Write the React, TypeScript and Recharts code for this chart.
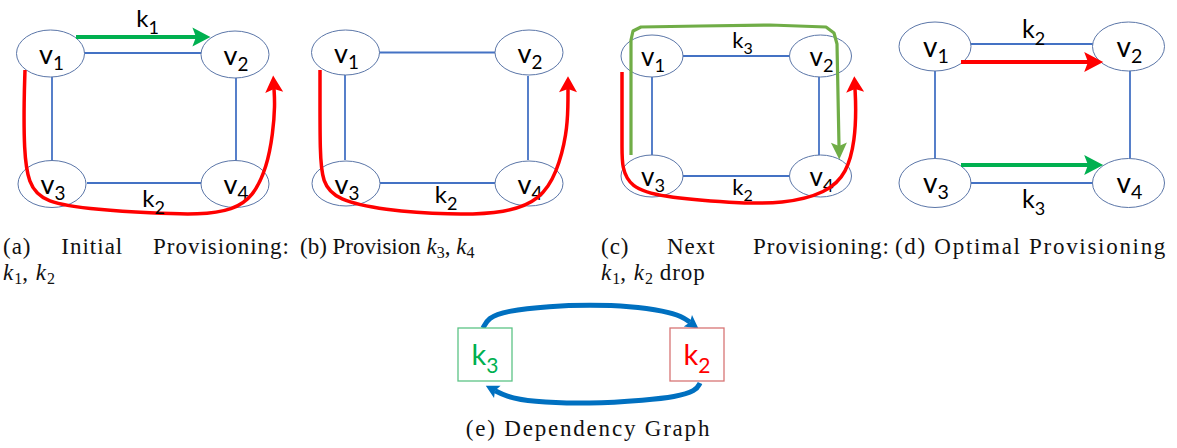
import React from 'react';
import { ScatterChart, Scatter, XAxis, YAxis } from 'recharts';

const W = 1177;
const H = 448;

// ---- node centres (px) ----
const nodesA = [
  { x: 50.5, y: 53.5, n: '1' }, { x: 235, y: 54.5, n: '2' },
  { x: 52, y: 184, n: '3' }, { x: 235, y: 184, n: '4' },
];
const nodesB = [
  { x: 345.5, y: 52.5, n: '1' }, { x: 529, y: 52.5, n: '2' },
  { x: 346, y: 183.5, n: '3' }, { x: 529, y: 183.5, n: '4' },
];
const nodesC = [
  { x: 652, y: 56, n: '1' }, { x: 820.5, y: 56, n: '2' },
  { x: 652, y: 176, n: '3' }, { x: 820.5, y: 176, n: '4' },
];
const nodesD = [
  { x: 935, y: 46.5, n: '1' }, { x: 1128.5, y: 46.5, n: '2' },
  { x: 935, y: 183, n: '3' }, { x: 1128.5, y: 183, n: '4' },
];

// ---- graph edges (segments between ellipse borders) ----
const edgesA = [
  [{ x: 84, y: 53 }, { x: 201, y: 53 }],
  [{ x: 52, y: 77 }, { x: 52, y: 161 }],
  [{ x: 236, y: 78 }, { x: 236, y: 161 }],
  [{ x: 87, y: 183 }, { x: 201, y: 183 }],
];
const edgesB = [
  [{ x: 379, y: 52.5 }, { x: 495, y: 52.5 }],
  [{ x: 345, y: 74 }, { x: 345, y: 160 }],
  [{ x: 528, y: 76 }, { x: 528, y: 160 }],
  [{ x: 380, y: 183 }, { x: 495, y: 183 }],
];
const edgesC = [
  [{ x: 683, y: 56 }, { x: 789, y: 56 }],
  [{ x: 652, y: 77 }, { x: 652, y: 155 }],
  [{ x: 819, y: 77 }, { x: 819, y: 155 }],
  [{ x: 683, y: 176 }, { x: 789, y: 176 }],
];
const edgesD = [
  [{ x: 971, y: 44 }, { x: 1093, y: 44 }],
  [{ x: 935, y: 71 }, { x: 935, y: 158 }],
  [{ x: 1130, y: 71 }, { x: 1130, y: 158 }],
  [{ x: 971, y: 183 }, { x: 1093, y: 183 }],
];

// ---- flow paths (last point = arrow notch) ----
const greenA = [{ x: 76, y: 37 }, { x: 196, y: 37 }];
const redA = [
  { x: 25, y: 70 }, { x: 24, y: 100 }, { x: 24, y: 150 }, { x: 28, y: 183 },
  { x: 43, y: 203 }, { x: 100, y: 210 }, { x: 150, y: 213 }, { x: 200, y: 215 },
  { x: 233, y: 210 }, { x: 253, y: 197 }, { x: 267, y: 167 }, { x: 273, y: 133 },
  { x: 275, y: 105 }, { x: 274, y: 89 },
];
const redB = [
  { x: 320, y: 70 }, { x: 320, y: 100 }, { x: 320, y: 150 }, { x: 322, y: 183 },
  { x: 337, y: 200 }, { x: 383, y: 210 }, { x: 450, y: 215 }, { x: 507, y: 213 },
  { x: 540, y: 200 }, { x: 557, y: 173 }, { x: 567, y: 133 }, { x: 568, y: 105 },
  { x: 568, y: 89 },
];
const redC = [
  { x: 622, y: 72 }, { x: 622, y: 110 }, { x: 622, y: 150 }, { x: 622, y: 167 },
  { x: 630, y: 187 }, { x: 660, y: 197 }, { x: 733, y: 203 }, { x: 783, y: 204 },
  { x: 827, y: 193 }, { x: 847, y: 173 }, { x: 855, y: 140 }, { x: 856, y: 107 },
  { x: 855, y: 89 },
];
const greenC = [
  { x: 631, y: 155 }, { x: 631, y: 40 }, { x: 633, y: 31 }, { x: 641, y: 27 },
  { x: 700, y: 26 }, { x: 770, y: 25 }, { x: 826, y: 27 }, { x: 834, y: 33 },
  { x: 837, y: 44 }, { x: 839, y: 146 },
];
const redD = [{ x: 961, y: 62 }, { x: 1088, y: 62 }];
const greenD = [{ x: 961, y: 165 }, { x: 1088, y: 165 }];

// dependency graph arcs
const depTop = [
  { x: 483, y: 328 }, { x: 488, y: 318 }, { x: 505, y: 311 }, { x: 550, y: 306 },
  { x: 590, y: 305 }, { x: 630, y: 306 }, { x: 665, y: 311 }, { x: 682, y: 316.5 },
  { x: 690, y: 322.3 },
];
const depBottom = [
  { x: 700, y: 383 }, { x: 696, y: 391 }, { x: 675, y: 397 }, { x: 647, y: 400 },
  { x: 590, y: 404 }, { x: 530, y: 402 }, { x: 505, y: 396 }, { x: 495, y: 390.7 },
];
const depBoxes = [
  { x: 485, y: 354.5, t: '3' },
  { x: 697, y: 354.5, t: '2' },
];

// ---- edge labels k_i (x = centre, y = baseline) ----
const labelsA = [{ x: 147.5, y: 27, t: '1' }, { x: 153.5, y: 207, t: '2' }];
const labelsB = [{ x: 446, y: 203, t: '2' }];
const labelsC = [{ x: 742.5, y: 48, t: '3' }, { x: 742.5, y: 195, t: '2' }];
const labelsD = [{ x: 1033.5, y: 38, t: '2' }, { x: 1033.5, y: 208, t: '3' }];

const BLUE = '#4472c4';
const NODE_STROKE = '#5b76a8';
const RED = '#ff0000';
const GREEN = '#00b050';
const OLIVE = '#70ad47';
const DEP = '#0070c0';
const SANS = 'Lato, "Open Sans", sans-serif';

const noDot = () => <g />;

const tipOf = (pts: { x: number; y: number }[]) => {
  const a = pts[pts.length - 2];
  const b = pts[pts.length - 1];
  return [{ x: b.x, y: b.y, ang: Math.atan2(b.y - a.y, b.x - a.x) }];
};

const arrowShape = (len: number, hw: number, color: string) => (p: any) => {
  const { cx, cy, payload } = p;
  const c = Math.cos(payload.ang);
  const s = Math.sin(payload.ang);
  const pts = [
    [len * 0.8, 0], [-len * 0.2, -hw], [0, 0], [-len * 0.2, hw],
  ].map(([u, v]) => `${cx + u * c - v * s},${cy + u * s + v * c}`).join(' ');
  return <polygon points={pts} fill={color} />;
};

const ellipseShape = (rx: number, ry: number, fs = 27) => (p: any) => (
  <g>
    <ellipse cx={p.cx} cy={p.cy} rx={rx} ry={ry} fill="#fff" stroke={NODE_STROKE} strokeWidth={1} />
    <text x={p.cx + 1} y={p.cy + 10} textAnchor="middle" fontFamily={SANS} fill="#000">
      <tspan fontSize={fs}>v</tspan>
      <tspan fontSize={fs * 0.7} dy={6}>{p.payload.n}</tspan>
    </text>
  </g>
);

const labelShape = (size: number, subSize: number, dy: number) => (p: any) => (
  <text x={p.cx} y={p.cy} textAnchor="middle" fontFamily={SANS} fill="#000">
    <tspan fontSize={size}>k</tspan>
    <tspan fontSize={subSize} dy={dy}>{p.payload.t}</tspan>
  </text>
);

const boxShape = (p: any) => {
  const green = p.payload.t === '3';
  return (
    <g>
      <rect x={p.cx - 27} y={p.cy - 26.5} width={54} height={53} fill="#fff"
        stroke={green ? '#5cc486' : '#d87575'} strokeWidth={1.3} />
      <text x={p.cx} y={p.cy + 10.5} textAnchor="middle" fontFamily={SANS} fill={green ? GREEN : RED}>
        <tspan fontSize={29}>k</tspan>
        <tspan fontSize={21} dy={8}>{p.payload.t}</tspan>
      </text>
    </g>
  );
};

const path = (key: string, data: any[], color: string, width: number, joint: any = 'linear', cap: any = 'round') => (
  <Scatter key={key} data={data} isAnimationActive={false} shape={noDot}
    line={{ stroke: color, strokeWidth: width, strokeLinecap: cap, strokeLinejoin: 'round', fill: 'none' }}
    lineType="joint" lineJointType={joint} />
);

const arrow = (key: string, data: any[], len: number, hw: number, color: string) => (
  <Scatter key={key} data={tipOf(data)} isAnimationActive={false} shape={arrowShape(len, hw, color)} />
);

const cap: React.CSSProperties = {
  position: 'absolute', fontFamily: '"Liberation Serif", "Times New Roman", serif',
  fontSize: 23, lineHeight: '26px', letterSpacing: 1, color: '#111', whiteSpace: 'nowrap',
};
const just: React.CSSProperties = { textAlign: 'justify', textAlignLast: 'justify', whiteSpace: 'normal' };

const K = ({ n }: { n: string }) => (
  <span><i>k</i><span style={{ fontSize: 16, position: 'relative', top: 4, letterSpacing: 0 }}>{n}</span></span>
);

export default function App() {
  return (
    <div style={{ position: 'absolute', left: 0, top: 0, width: W, height: H, background: '#fff', overflow: 'hidden' }}>
      <ScatterChart width={W} height={H} margin={{ top: 0, right: 0, bottom: 0, left: 0 }}>
        <XAxis type="number" dataKey="x" domain={[0, W]} allowDataOverflow hide />
        <YAxis type="number" dataKey="y" domain={[0, H]} allowDataOverflow reversed hide />

        {[...edgesA, ...edgesB, ...edgesC, ...edgesD].map((seg, i) => path(`e${i}`, seg, BLUE, 1.8, 'linear', 'butt'))}

        <Scatter data={nodesA} isAnimationActive={false} shape={ellipseShape(34, 23.5)} />
        <Scatter data={nodesB} isAnimationActive={false} shape={ellipseShape(34, 22.5)} />
        <Scatter data={nodesC} isAnimationActive={false} shape={ellipseShape(31, 21, 26)} />
        <Scatter data={nodesD} isAnimationActive={false} shape={ellipseShape(36, 24.5, 28)} />

        {path('gA', greenA, GREEN, 4, 'linear', 'butt')}
        {arrow('gAh', greenA, 18, 9.5, GREEN)}
        {path('rA', redA, RED, 3.5, 'basis', 'butt')}
        {arrow('rAh', redA, 17, 9, RED)}
        {path('rB', redB, RED, 3.5, 'basis', 'butt')}
        {arrow('rBh', redB, 16, 9, RED)}
        {path('rC', redC, RED, 3.5, 'basis', 'butt')}
        {arrow('rCh', redC, 16, 9, RED)}
        {path('gC', greenC, OLIVE, 3.2, 'linear', 'butt')}
        {arrow('gCh', greenC, 17, 8, OLIVE)}
        {path('rD', redD, RED, 4, 'linear', 'butt')}
        {arrow('rDh', redD, 19, 10, RED)}
        {path('gD', greenD, GREEN, 4, 'linear', 'butt')}
        {arrow('gDh', greenD, 19, 10, GREEN)}

        <Scatter data={labelsA} isAnimationActive={false} shape={labelShape(24, 18, 7)} />
        <Scatter data={labelsB} isAnimationActive={false} shape={labelShape(24, 18, 7)} />
        <Scatter data={labelsC} isAnimationActive={false} shape={labelShape(22, 16, 6)} />
        <Scatter data={labelsD} isAnimationActive={false} shape={labelShape(25, 18, 7)} />

        {path('dt', depTop, DEP, 5, 'basis', 'butt')}
        {arrow('dth', depTop, 13, 7, DEP)}
        {path('db', depBottom, DEP, 5, 'basis', 'butt')}
        {arrow('dbh', depBottom, 13, 7, DEP)}
        <Scatter data={depBoxes} isAnimationActive={false} shape={boxShape} />
      </ScatterChart>

      <div style={{ ...cap, ...just, left: 3, top: 234, width: 287 }}>(a) Initial Provisioning:</div>
      <div style={{ ...cap, left: 3, top: 260 }}><K n="1" />, <K n="2" /></div>
      <div style={{ ...cap, left: 300, top: 234, letterSpacing: 0 }}>(b) Provision <K n="3" />, <K n="4" /></div>
      <div style={{ ...cap, ...just, left: 601, top: 234, width: 289 }}>(c) Next Provisioning:</div>
      <div style={{ ...cap, left: 601, top: 260 }}><K n="1" />, <K n="2" /> drop</div>
      <div style={{ ...cap, left: 895, top: 234, letterSpacing: 1.7 }}>(d) Optimal Provisioning</div>
      <div style={{ ...cap, left: 0, top: 416, width: W, textAlign: 'center', letterSpacing: 1.8 }}>(e) Dependency Graph</div>
    </div>
  );
}
